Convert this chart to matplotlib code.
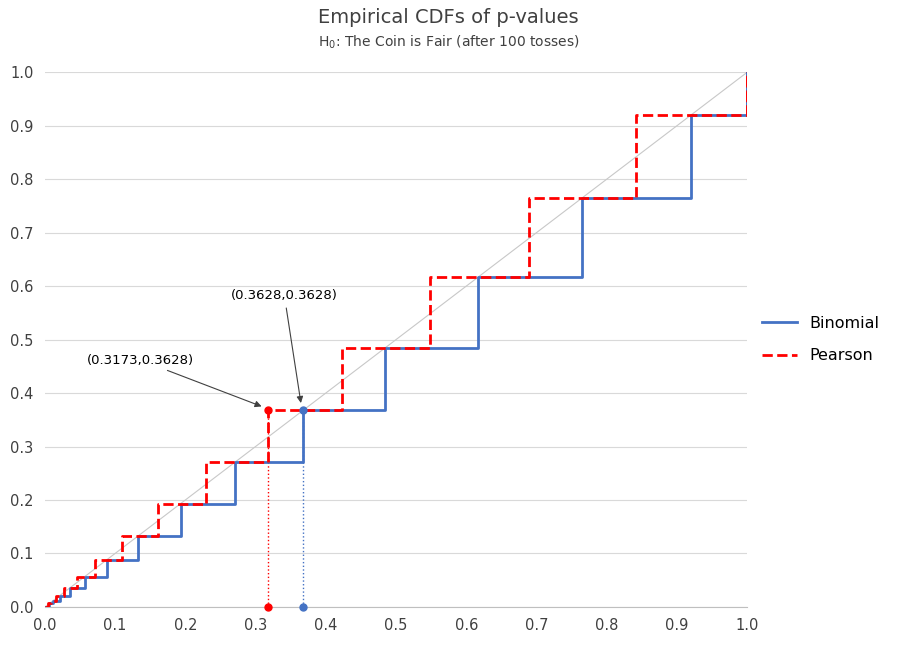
import matplotlib
matplotlib.use("Agg")
import matplotlib.pyplot as plt
import numpy as np

levels = [0.0, 0.0066, 0.0120, 0.0210, 0.0352, 0.0569, 0.0886, 0.1332, 0.1933, 0.2713, 0.3682, 0.4841, 0.6173, 0.7642, 0.9204, 1.0]
binom_p = [0.0, 0.0066, 0.0120, 0.0210, 0.0352, 0.0569, 0.0886, 0.1332, 0.1933, 0.2713, 0.3682, 0.4841, 0.6173, 0.7642, 0.9204, 1.0]
pearson_p = [0.0, 0.0051, 0.0093, 0.0164, 0.0278, 0.0455, 0.0719, 0.1096, 0.1615, 0.2301, 0.3173, 0.4237, 0.5485, 0.6892, 0.8415, 1.0]

fig = plt.figure(figsize=(8.97, 6.45), dpi=100)
ax = fig.add_axes([0.05, 0.059, 0.783, 0.829])

ax.plot([0, 1], [0, 1], color="#c8c8c8", lw=0.8, zorder=1)
ax.step(binom_p, levels, where="post", color="#4472C4", lw=2, label="Binomial", zorder=3)
ax.plot([1, 1], [levels[-2], 1], color="#4472C4", lw=2, zorder=3)
ax.step(pearson_p, levels, where="post", color="#FF0000", lw=2, ls="--", label="Pearson", zorder=4)
ax.plot([1, 1], [levels[-2], 1], color="#FF0000", lw=2, ls="--", zorder=4)

bx, px, yl = binom_p[10], pearson_p[10], levels[10]
ax.plot([px, px], [0, yl], color="#FF0000", lw=1, ls=":", zorder=2)
ax.plot([bx, bx], [0, yl], color="#4472C4", lw=1, ls=":", zorder=2)
ax.plot([px, px], [0, yl], "o", color="#FF0000", ms=5, zorder=5, clip_on=False)
ax.plot([bx, bx], [0, yl], "o", color="#4472C4", ms=5, zorder=5, clip_on=False)

ax.annotate("(0.3173,0.3628)", xy=(px - 0.005, yl + 0.005), xytext=(0.06, 0.455),
            fontsize=9.5, arrowprops=dict(arrowstyle="-|>", color="#404040", lw=0.8))
ax.annotate("(0.3628,0.3628)", xy=(bx - 0.003, yl + 0.008), xytext=(0.265, 0.575),
            fontsize=9.5, arrowprops=dict(arrowstyle="-|>", color="#404040", lw=0.8))

ax.set_xlim(0, 1)
ax.set_ylim(0, 1)
ax.set_xticks(np.arange(0, 1.01, 0.1))
ax.set_yticks(np.arange(0, 1.01, 0.1))
ax.set_xticklabels([f"{v:.1f}" for v in np.arange(0, 1.01, 0.1)], fontsize=10.5, color="#404040")
ax.set_yticklabels([f"{v:.1f}" for v in np.arange(0, 1.01, 0.1)], fontsize=10.5, color="#404040")
ax.yaxis.grid(True, color="#d9d9d9", lw=0.8)
ax.set_axisbelow(True)
for s in ["top", "right", "left"]:
    ax.spines[s].set_visible(False)
ax.spines["bottom"].set_color("#bfbfbf")
ax.tick_params(length=0, pad=8)

fig.text(0.5, 0.965, "Empirical CDFs of p-values", ha="center", fontsize=14, color="#404040")
fig.text(0.5, 0.928, "H$_0$: The Coin is Fair (after 100 tosses)", ha="center", fontsize=10, color="#404040")

ax.legend(loc="center left", bbox_to_anchor=(1.0, 0.5), frameon=False, fontsize=11.5,
          handlelength=2.2, labelspacing=1.1)
fig.savefig("out.png", dpi=100)
